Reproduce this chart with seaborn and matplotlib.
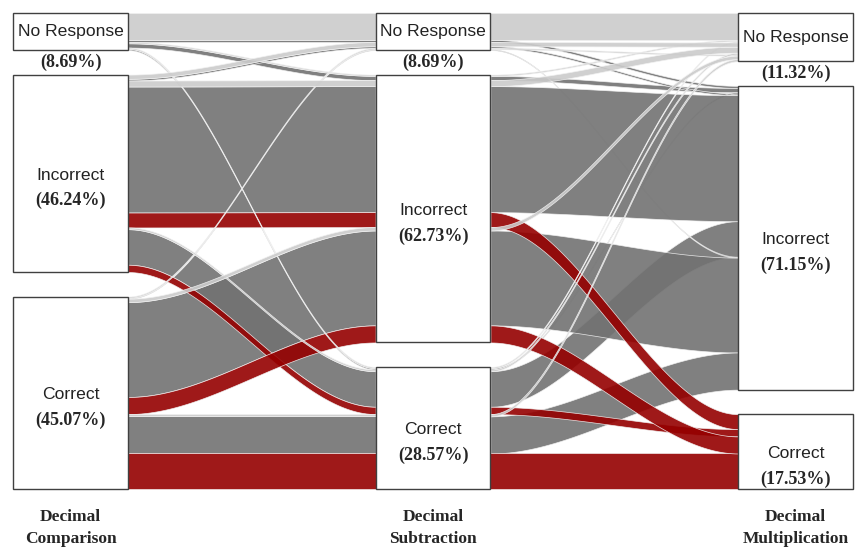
import numpy as np
import pandas as pd
import seaborn as sns
import matplotlib.pyplot as plt
from matplotlib.patches import Rectangle

# axes of the alluvial plot and the response categories (top to bottom)
axis_titles = ["Decimal\nComparison", "Decimal\nSubtraction", "Decimal\nMultiplication"]
strata = ["No Response", "Incorrect", "Correct"]
codes = ["N", "I", "C"]

# printed percentages for each stratum
share_comparison = [8.69, 46.24, 45.07]
share_subtraction = [8.69, 62.73, 28.57]
share_multiplication = [11.32, 71.15, 17.53]

# individual response paths (comparison, subtraction, multiplication) and their share in %
paths = ["NNN", "NNI", "NIN", "NII", "NCN", "NCI",
         "INN", "INI", "IIN", "III", "IIC", "ICN", "ICI", "ICC",
         "CNN", "CNI", "CIN", "CII", "CIC", "CCN", "CCI", "CCC"]
path_share = [6.30, 0.50, 0.30, 1.00, 0.30, 0.29,
              0.99, 0.40, 1.40, 29.51, 3.50, 0.40, 8.33, 1.71,
              0.30, 0.20, 0.80, 22.22, 4.00, 0.53, 8.70, 8.32]

flow_colors = {"N": "#cbcbcb", "I": "#727272", "C": "#950000"}

df = pd.DataFrame({"path": paths, "share": path_share})
for k in range(3):
    df["a%d" % k] = df["path"].str[k]
rank = {c: i for i, c in enumerate(codes)}

gap = 5.74
box_w = 0.317

# stack the strata and the lodes inside them
box_pos = {}
for k in range(3):
    top = 0.0
    for s in codes:
        sub = df[df["a%d" % k] == s].copy()
        others = [j for j in range(3) if j != k]
        sub["key"] = sub["path"].apply(lambda p: tuple(rank[p[j]] for j in others))
        sub = sub.sort_values("key")
        y = top
        for idx, row in sub.iterrows():
            df.loc[idx, "y%d" % k] = y
            y += row["share"]
        box_pos[(k, s)] = (top, y)
        top = y + gap

sns.set_style("white")
fig = plt.figure(figsize=(8.55, 5.47), dpi=100)
ax = fig.add_axes([0, 0, 1, 1])

t = np.linspace(0, 1, 80)
ease = 3 * t ** 2 - 2 * t ** 3
draw_order = {"I": 0, "C": 1, "N": 2}
df["z"] = df["a2"].map(draw_order)
for k in range(2):
    x0 = k + box_w / 2
    x1 = k + 1 - box_w / 2
    xs = x0 + (x1 - x0) * t
    for _, row in df.sort_values("z").iterrows():
        ya = row["y%d" % k]
        yb = row["y%d" % (k + 1)]
        upper = ya + (yb - ya) * ease
        ax.fill_between(xs, upper, upper + row["share"], color=flow_colors[row["a2"]],
                        alpha=0.9, edgecolor="#f2f2f2", linewidth=0.5, zorder=2 + row["z"])

labels = [share_comparison, share_subtraction, share_multiplication]
for k in range(3):
    for i, s in enumerate(codes):
        top, bot = box_pos[(k, s)]
        ax.add_patch(Rectangle((k - box_w / 2, top), box_w, bot - top, facecolor="white",
                               edgecolor="#404040", linewidth=1.0, zorder=10))
        pct = "(%.2f%%)" % labels[k][i]
        if s == "N":
            ax.text(k, (top + bot) / 2, strata[i], ha="center", va="center", fontsize=12.6,
                    family="Liberation Sans", color="#222222", zorder=11)
            ax.text(k, bot + 2.8, pct, ha="center", va="center", fontsize=13,
                    family="Liberation Serif", fontweight="bold", zorder=11)
        else:
            mid = (top + bot) / 2
            ax.text(k, mid + 0.4, strata[i], ha="center", va="center", fontsize=12.6,
                    family="Liberation Sans", color="#222222", zorder=11)
            ax.text(k, mid + 6.4, pct, ha="center", va="center", fontsize=13,
                    family="Liberation Serif", fontweight="bold", zorder=11)
    ax.text(k, 120.6, axis_titles[k], ha="center", va="center", fontsize=12.5,
            family="Liberation Serif", fontweight="bold", linespacing=1.45)

ax.set_xlim(-0.1945, 2.164)
ax.set_ylim(125.06, -3.04)
ax.axis("off")
plt.savefig("out.png", dpi=100)
